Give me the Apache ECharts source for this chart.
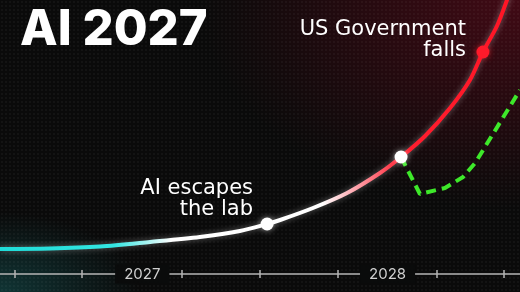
<!DOCTYPE html>
<html>
<head>
<meta charset="utf-8">
<script src="https://cdn.jsdelivr.net/npm/echarts@6/dist/echarts.min.js"></script>
<style>
html,body{margin:0;padding:0;width:520px;height:292px;overflow:hidden;}
#wrap{position:relative;width:520px;height:292px;
background:
 radial-gradient(rgba(255,255,255,0.035) 1px, transparent 1.2px) 0 0/4px 4px,
 radial-gradient(ellipse 140px 80px at 0% 100%, rgba(22,95,95,0.5), rgba(22,95,95,0) 100%),
 radial-gradient(ellipse 320px 210px at 100% 0%, rgba(110,10,30,0.55), rgba(110,10,30,0) 100%),
 #0a0a0a;}
#chart{position:absolute;left:0;top:0;width:520px;height:292px;}
</style>
</head>
<body>
<div id="wrap"><div id="chart"></div></div>
<script>
// Main trajectory (decimal year, capability level)
const mainYears  = [2026.420, 2026.624, 2026.828, 2027.032, 2027.235, 2027.398, 2027.509, 2027.562, 2027.696, 2027.835, 2027.969, 2028.055, 2028.153, 2028.255, 2028.336, 2028.389, 2028.446, 2028.487, 2028.520];
const mainValues = [25, 25.5, 27.5, 32, 37, 43, 50, 54, 66, 81, 101, 117, 138, 166, 194, 222, 248, 274, 298];
// Alternative (slowdown) branch
const forkYears  = [2028.055, 2028.132, 2028.234, 2028.308, 2028.357, 2028.540];
const forkValues = [117, 80, 86, 97, 111, 184];
// Milestones
const milestoneYears  = [2027.509, 2028.055, 2028.389];
const milestoneValues = [50, 117, 222];
const milestoneNames  = ['AI escapes the lab', '', 'US Government falls'];
// Axis
const tickYears  = [2026.481, 2026.754, 2027.162, 2027.480, 2027.798, 2028.202, 2028.475];
const labelYears = [2027, 2028];
const titleText = 'AI 2027';

const chart = echarts.init(document.getElementById('chart'), null, {renderer: 'canvas'});
const xMin = 2026.42, xMax = 2028.54;

const mainData = mainYears.map((x, i) => [x, mainValues[i]]);
const forkData = forkYears.map((x, i) => [x, forkValues[i]]);
const dots = milestoneYears.map((x, i) => ({
  value: [x, milestoneValues[i]],
  itemStyle: {color: i === 2 ? '#ff1a2a' : '#ffffff', opacity: 1,
              shadowBlur: 6, shadowColor: i === 2 ? 'rgba(255,30,40,0.6)' : 'rgba(255,255,255,0.5)'}
}));

const lineGrad = {
  type: 'linear', x: 0, y: 0, x2: 520, y2: 0, global: true,
  colorStops: [
    {offset: 0, color: '#1fdcd8'},
    {offset: 0.22, color: '#33e6e2'},
    {offset: 0.33, color: '#ffffff'},
    {offset: 0.62, color: '#ffffff'},
    {offset: 0.70, color: '#ff8e98'},
    {offset: 0.77, color: '#ff1f30'},
    {offset: 1, color: '#ff1424'}
  ]
};

const option = {
  backgroundColor: 'transparent',
  animation: false,
  grid: {left: 0, right: 0, top: 0, bottom: 18},
  xAxis: [{
    type: 'value', min: xMin, max: xMax,
    splitLine: {show: false},
    axisLine: {show: true, lineStyle: {color: '#b5b5b5', width: 1.5}},
    axisTick: {show: false},
    axisLabel: {
      show: true, customValues: labelYears, margin: 0, verticalAlign: 'middle',
      formatter: v => '{a|' + Math.round(v) + '}',
      rich: {
        a: {fontFamily: 'Inter', fontSize: 15, color: '#d0d0d0', backgroundColor: '#0a0b0b', padding: [2, 9, 2, 9]}
      }
    }
  }, {
    type: 'value', min: xMin, max: xMax, position: 'bottom', offset: -4,
    splitLine: {show: false},
    axisLine: {show: false},
    axisLabel: {show: false},
    axisTick: {show: true, customValues: tickYears, length: 8, inside: false, lineStyle: {color: '#b5b5b5', width: 1.5}}
  }],
  yAxis: {type: 'value', min: 0, max: 274, show: false},
  series: [
    {
      type: 'line', data: forkData, xAxisIndex: 0, showSymbol: false, z: 2,
      lineStyle: {color: '#3ee82a', width: 4, type: [10, 6], cap: 'butt'}
    },
    {
      type: 'line', data: mainData, xAxisIndex: 0, smooth: 0.3, showSymbol: false, z: 3,
      lineStyle: {color: lineGrad, width: 4, shadowBlur: 6, shadowColor: 'rgba(255,255,255,0.35)'}
    },
    {
      type: 'scatter', data: dots, xAxisIndex: 0, symbolSize: 13, z: 4
    }
  ],
  graphic: [
    {type: 'text', left: 20, top: 6, z: 10,
     style: {text: titleText, fontFamily: 'Inter', fontWeight: 800, fontSize: 49, fill: '#ffffff'}},
    {type: 'text', x: 466, y: 40.5, z: 10,
     style: {text: milestoneNames[2].replace('Government ', 'Government\n'), fontFamily: 'DejaVu Sans', fontSize: 21, lineHeight: 21,
             fill: '#ffffff', align: 'right', verticalAlign: 'middle'}},
    {type: 'text', x: 253, y: 199.5, z: 10,
     style: {text: milestoneNames[0].replace('escapes ', 'escapes\n'), fontFamily: 'DejaVu Sans', fontSize: 21, lineHeight: 21,
             fill: '#ffffff', align: 'right', verticalAlign: 'middle'}}
  ]
};
chart.setOption(option);
</script>
</body>
</html>
